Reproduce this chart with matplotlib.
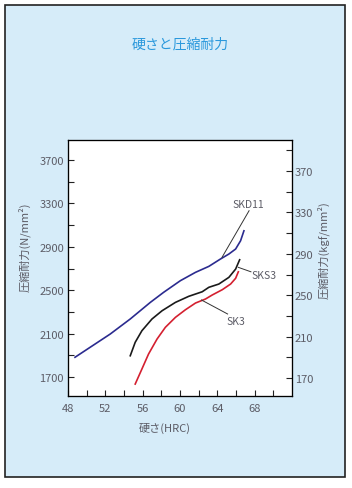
import matplotlib
matplotlib.use("Agg")
import matplotlib.pyplot as plt
from matplotlib.patches import Rectangle

plt.rcParams["font.family"] = ["Noto Sans CJK JP", "DejaVu Sans"]

BG = "#d6ecf9"
GRAY = "#5c5c66"
TITLE = "#2a98dc"

# hardness (HRC) vs compressive strength (N/mm2)
skd11_hrc = [48.75, 50.37, 52.52, 54.67, 56.82, 58.25, 60.04, 61.66, 63.09,
             64.34, 65.24, 65.96, 66.49, 66.85]
skd11_n = [1882, 1974, 2096, 2235, 2388, 2481, 2588, 2665, 2720,
           2788, 2834, 2880, 2956, 3048]

sks3_hrc = [54.67, 55.20, 55.92, 57.00, 58.08, 59.51, 60.94, 62.38, 63.09,
            64.16, 65.24, 65.96, 66.39]
sks3_n = [1896, 2020, 2127, 2235, 2311, 2388, 2444, 2486, 2527,
          2557, 2619, 2695, 2781]

sk3_hrc = [55.20, 55.92, 56.63, 57.54, 58.43, 59.51, 60.58, 61.66, 62.73,
           63.45, 64.53, 65.42, 65.96, 66.25]
sk3_n = [1635, 1774, 1912, 2050, 2158, 2250, 2320, 2382, 2419,
         2456, 2505, 2557, 2610, 2670]

labels = ["SKD11", "SKS3", "SK3"]
label_xy = [(67.3, 3294), (69.0, 2640), (66.0, 2219)]
leader_from = [(67.4, 3233), (67.6, 2670), (65.1, 2281)]
leader_to = [(64.5, 2803), (66.25, 2711), (62.3, 2410)]

fig = plt.figure(figsize=(3.52, 4.89), dpi=100)
fig.patch.set_facecolor("white")
fig.patches.append(Rectangle((5 / 352, 1 - 478 / 489), 340 / 352, 472 / 489,
                             transform=fig.transFigure, facecolor=BG,
                             edgecolor="#222222", linewidth=1.2, zorder=-10))

ax = fig.add_axes([68 / 352, 1 - 397 / 489, 224 / 352, 256 / 489])
ax.set_facecolor("white")

ax.plot(skd11_hrc, skd11_n, color="#2b2b8f", lw=1.2)
ax.plot(sks3_hrc, sks3_n, color="#1a1a1a", lw=1.2)
ax.plot(sk3_hrc, sk3_n, color="#d42030", lw=1.2)

for name, xy, a, b in zip(labels, label_xy, leader_from, leader_to):
    ax.plot([a[0], b[0]], [a[1], b[1]], color="#333333", lw=0.7)
    ax.text(xy[0], xy[1], name, color=GRAY, fontsize=7.5, ha="center", va="center")

ax.set_xlim(48, 72)
ax.set_ylim(1525, 3885)
ax.set_xticks(range(48, 72, 2))
ax.set_xticklabels([str(v) if v % 4 == 0 else "" for v in range(48, 72, 2)])
ax.set_yticks(range(1700, 3900, 200))
ax.set_yticklabels([str(v) if (v - 1700) % 400 == 0 else "" for v in range(1700, 3900, 200)])
ax.tick_params(direction="in", length=4, width=0.8, labelsize=8, colors="#222222",
               labelcolor=GRAY, top=False)
ax.tick_params(axis="y", pad=3)
ax.tick_params(axis="x", pad=5)
for s in ax.spines.values():
    s.set_linewidth(0.9)
    s.set_color("#222222")

ax2 = ax.twinx()
ax2.set_ylim(152.6, 400)
ax2.set_yticks(range(170, 400, 20))
ax2.set_yticklabels([str(v) if (v - 170) % 40 == 0 else "" for v in range(170, 400, 20)])
ax2.tick_params(direction="in", length=4, width=0.8, labelsize=8, colors="#222222",
                labelcolor=GRAY, pad=2)

fig.text(180 / 352, 1 - 45 / 489, "硬さと圧縮耐力", color=TITLE, fontsize=10,
         ha="center", va="center")
fig.text(165 / 352, 1 - 428 / 489, "硬さ(HRC)", color=GRAY, fontsize=8,
         ha="center", va="center")
fig.text(24 / 352, 1 - 247 / 489, "圧縮耐力(N/mm²)", color=GRAY, fontsize=8,
         ha="center", va="center", rotation=90)
fig.text(323 / 352, 1 - 250 / 489, "圧縮耐力(kgf/mm²)", color=GRAY, fontsize=8,
         ha="center", va="center", rotation=90)

fig.savefig("out.png", dpi=100)
